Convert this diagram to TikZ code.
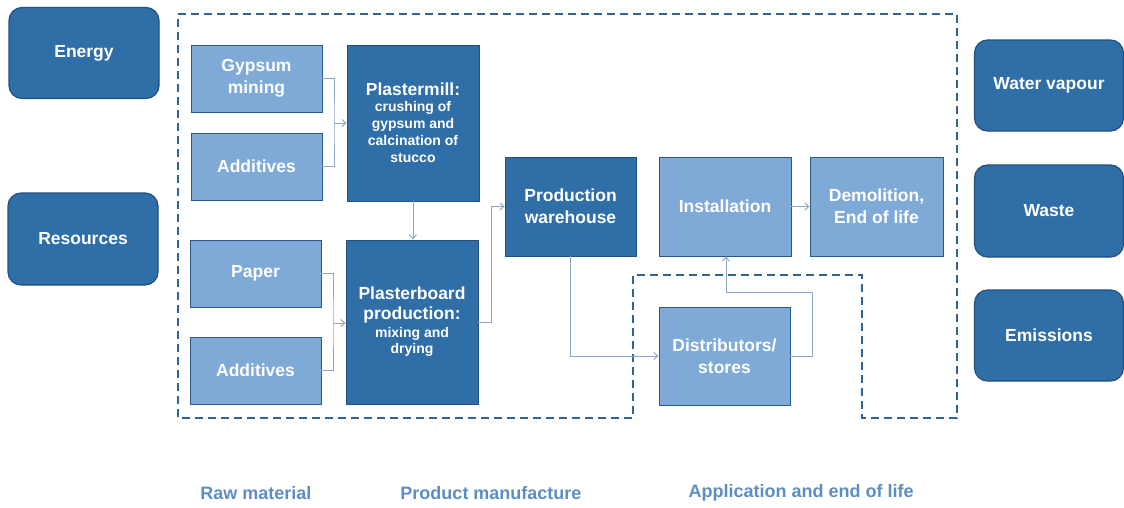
\documentclass[tikz,border=0pt]{standalone}
\usepackage{fontspec}
\setmainfont{Liberation Sans}
\usetikzlibrary{arrows.meta}
\definecolor{darkfill}{HTML}{2F6EA6}
\definecolor{darkline}{HTML}{21507E}
\definecolor{lightfill}{HTML}{7FAAD8}
\definecolor{lightline}{HTML}{2A5A8C}
\definecolor{dashcol}{HTML}{2F6496}
\definecolor{conncol}{HTML}{8EA8C4}
\definecolor{labcol}{HTML}{5D8EC3}
\newcommand\subtxt{\fontsize{14}{17}\selectfont\bfseries}
\tikzset{
  base/.style={inner sep=2pt, align=center, text=white, font=\fontsize{17.5}{22}\selectfont\bfseries},
  ext/.style={base, rounded corners=13pt, fill=darkfill, draw=darkline, line width=1.2pt, minimum width=150, minimum height=91},
  lbox/.style={base, fill=lightfill, draw=lightline, line width=0.9pt, minimum width=131},
  dbox/.style={base, fill=darkfill, draw=darkline, line width=0.9pt, minimum width=132},
  conn/.style={draw=conncol, line width=1pt},
  arr/.style={conn, -{Straight Barb[length=4pt,width=7pt]}},
  phase/.style={text=labcol, font=\fontsize{18}{22}\selectfont\bfseries},
  bound/.style={draw=dashcol, line width=1.5pt, dash pattern=on 8pt off 5pt}
}
\begin{document}
\begin{tikzpicture}[x=1pt,y=-1pt]
\useasboundingbox (0,0) rectangle (1124,507);
% external boxes
\node[ext] (energy) at (84,53) {Energy};
\node[ext, minimum height=92] (res) at (83,239) {Resources};
\node[ext, minimum width=149] (water) at (1049,85.5) {Water vapour};
\node[ext, minimum width=149, minimum height=92] (waste) at (1049,211) {Waste};
\node[ext, minimum width=149] (emis) at (1049,335.5) {Emissions};
% system boundary
\draw[bound] (178,14) -- (957,14) -- (957,418) -- (862,418) -- (862,275) -- (633,275) -- (633,418) -- (178,418) -- cycle;
% raw materials
\node[lbox, minimum height=67] (gyp) at (256.5,78.5) {Gypsum\\mining};
\node[lbox, minimum height=67] (add1) at (256.5,166.5) {Additives};
\node[lbox, minimum height=67] (paper) at (255.5,273.5) {Paper};
\node[lbox, minimum height=67] (add2) at (255.5,370.5) {Additives};
% manufacture
\node[dbox, minimum height=156] (pm) at (413,123) {Plastermill:\\[-6pt]{\subtxt crushing of}\\[-5pt]{\subtxt gypsum and}\\[-5pt]{\subtxt calcination of}\\[-5pt]{\subtxt stucco}};
\node[dbox, minimum height=164] (pb) at (412,322) {Plasterboard\\[-2pt]production:\\[-4pt]{\subtxt mixing and}\\[-6pt]{\subtxt drying}};
\node[dbox, minimum width=131, minimum height=99] (wh) at (570.5,206.5) {Production\\warehouse};
% application
\node[lbox, minimum width=132, minimum height=99] (inst) at (725,206.5) {Installation};
\node[lbox, minimum width=133, minimum height=99] (dem) at (876.5,206.5) {Demolition,\\End of life};
\node[lbox, minimum height=98] (dist) at (724.5,356) {Distributors/\\stores};
% connectors
\coordinate (j1) at (334,123);
\coordinate (j2) at (333,323);
\coordinate (k) at (726,292);
\draw[conn] (gyp.east) -| (j1) |- (add1.east);
\draw[arr] (j1) -- (pm.west |- j1);
\draw[conn] (paper.east) -| (j2) |- (add2.east);
\draw[arr] (j2) -- (pb.west |- j2);
\draw[arr] (pm.south) -- (pm.south |- pb.north);
\draw[arr] (pb.east) -- ++(13,0) |- (wh.west);
\draw[arr] (wh.south) |- (dist.west);
\draw[arr] (dist.east) -- ++(22,0) |- (k) -- (k |- inst.south);
\draw[arr] (inst.east) -- (dem.west);
% phase labels
\node[phase] (l1) at (256,493) {Raw material};
\node[phase] (l2) at (491,493) {Product manufacture};
\node[phase] (l3) at (801,493) {Application and end of life};
\end{tikzpicture}
\end{document}
